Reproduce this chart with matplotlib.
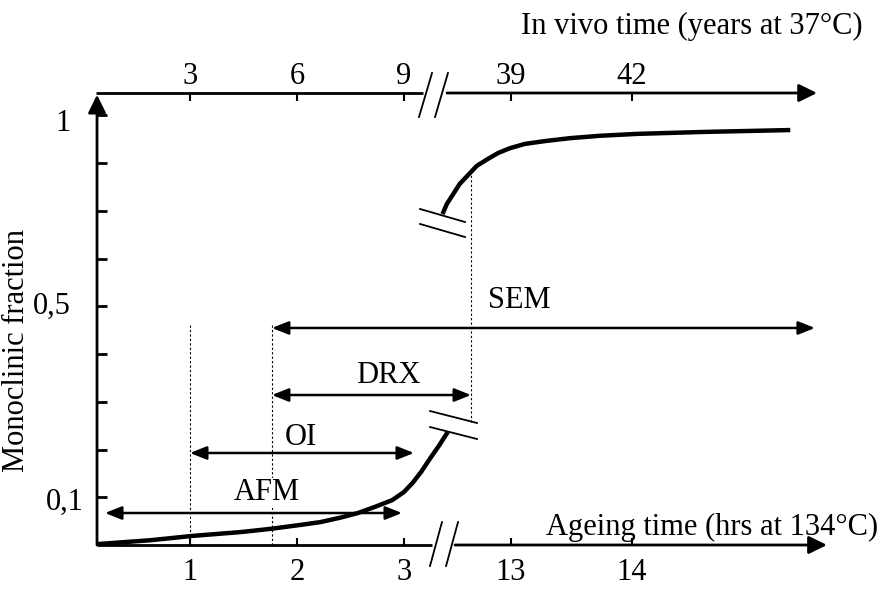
import matplotlib
matplotlib.use('Agg')
import matplotlib.pyplot as plt

plt.rcParams['font.family'] = ['Liberation Serif', 'DejaVu Serif']

# axis tick positions (schematic units) and labels
tick_pos = [1.0, 2.0, 3.0, 4.0, 5.13]
bottom_labels = ['1', '2', '3', '13', '14']
top_labels = ['3', '6', '9', '39', '42']
y_ticks = [1, 2, 3, 4, 5, 6, 7, 8, 9]
y_labels = ['0,1', '', '', '', '0,5', '', '', '', '1']

# monoclinic fraction curve (lower part before break, upper part after)
low_x = [0.14, 0.63, 1.02, 1.47, 1.76, 2.03, 2.22, 2.40, 2.57, 2.73, 2.89, 3.00, 3.08, 3.16, 3.24, 3.33, 3.41]
low_y = [0.02, 0.10, 0.19, 0.27, 0.34, 0.42, 0.48, 0.57, 0.67, 0.80, 0.94, 1.11, 1.30, 1.53, 1.80, 2.09, 2.37]
up_x = [3.36, 3.40, 3.46, 3.52, 3.60, 3.68, 3.78, 3.88, 3.99, 4.13, 4.32, 4.55, 4.83, 5.18, 5.79, 6.61]
up_y = [6.93, 7.14, 7.35, 7.56, 7.75, 7.94, 8.08, 8.21, 8.31, 8.40, 8.46, 8.52, 8.57, 8.61, 8.65, 8.69]

# technique ranges: name, start, end, level
tech_names = ['SEM', 'DRX', 'OI', 'AFM']
tech_start = [1.766, 1.766, 1.0, 0.206]
tech_end = [6.84, 3.626, 3.093, 2.981]
tech_level = [4.545, 3.141, 1.927, 0.670]
label_pos = [(4.08, 5.13), (2.85, 3.56), (2.04, 2.26), (1.72, 1.09)]

fig = plt.figure(figsize=(8.8, 5.94), dpi=100)
ax = fig.add_axes([0, 0, 1, 1])
ax.set_xlim(-83 / 107, (880 - 83) / 107)
ax.set_ylim((545 - 594) / 47.75, 545 / 47.75)
ax.axis('off')

fs = 22
lw_ax = 2.0
axhead = dict(arrowstyle='-|>,head_length=0.55,head_width=0.27', mutation_scale=20,
              lw=lw_ax, color='k', shrinkA=0, shrinkB=0)

x0 = 0.131
y_top = 9.466

# y axis
ax.annotate('', xy=(x0, 9.43), xytext=(x0, 0), arrowprops=axhead)
ax.hlines(y_ticks, x0, x0 + 0.093, color='k', lw=lw_ax)
# label placement (x of right edge, y offset) for the labelled ticks
ylab_place = {'0,1': (0.01, -0.1), '0,5': (-0.11, 0.0), '1': (-0.12, -0.17)}
for yt, lab in zip(y_ticks, y_labels):
    if lab:
        lx, dy = ylab_place[lab]
        ax.text(lx, yt + dy, lab, ha='right', va='center', fontsize=fs)

# bottom axis with break
ax.plot([x0, 3.262], [0, 0], color='k', lw=lw_ax, solid_capstyle='butt')
ax.annotate('', xy=(6.953, 0), xytext=(3.477, 0), arrowprops=axhead)
ax.plot([3.243, 3.355], [-0.44, 0.48], color='k', lw=1.3)
ax.plot([3.393, 3.505], [-0.44, 0.48], color='k', lw=1.3)
ax.vlines(tick_pos, 0, 0.147, color='k', lw=1.5)
for xp, lab in zip(tick_pos, bottom_labels):
    ax.text(xp, -0.57, lab, ha='center', va='center', fontsize=fs)

# top axis with break
ax.plot([x0 - 0.01, 3.178], [y_top, y_top], color='k', lw=lw_ax, solid_capstyle='butt')
ax.annotate('', xy=(6.86, y_top), xytext=(3.402, y_top), arrowprops=axhead)
ax.plot([3.140, 3.262], [8.963, 9.885], color='k', lw=1.3)
ax.plot([3.290, 3.411], [8.963, 9.885], color='k', lw=1.3)
ax.vlines(tick_pos, y_top - 0.168, y_top, color='k', lw=1.5)
for xp, lab in zip(tick_pos, top_labels):
    ax.text(xp, 9.82, lab, ha='center', va='center', fontsize=fs)

# axis titles
ax.text(5.69, 10.86, 'In vivo time (years at 37°C)', ha='center', va='center', fontsize=fs)
ax.text(5.88, 0.36, 'Ageing time (hrs at 134°C)', ha='center', va='center', fontsize=fs)
ax.text(-0.62, 4.08, 'Monoclinic fraction', ha='center', va='center', rotation=90, fontsize=fs)

# curve
ax.plot(low_x, low_y, color='k', lw=3.2, solid_capstyle='butt', solid_joinstyle='round')
ax.plot(up_x, up_y, color='k', lw=3.2, solid_capstyle='butt', solid_joinstyle='round')
# curve breaks
ax.plot([3.243, 3.682], [2.806, 2.555], color='k', lw=1.3)
ax.plot([3.243, 3.682], [2.471, 2.220], color='k', lw=1.3)
ax.plot([3.150, 3.570], [7.037, 6.764], color='k', lw=1.3)
ax.plot([3.150, 3.570], [6.723, 6.450], color='k', lw=1.3)

# dotted guides
dot = dict(color='k', lw=0.8, linestyle=(0, (2, 2)))
ax.plot([1.0, 1.0], [0, 4.61], **dot)
ax.plot([1.766, 1.766], [0, 4.61], **dot)
ax.plot([3.626, 3.626], [2.576, 7.75], **dot)

# technique double arrows
dbl = dict(arrowstyle='<|-|>,head_length=0.5,head_width=0.2', mutation_scale=20,
           lw=1.8, color='k', shrinkA=0, shrinkB=0)
for name, xs, xe, yl, (lx, ly) in zip(tech_names, tech_start, tech_end, tech_level, label_pos):
    ax.annotate('', xy=(xe, yl), xytext=(xs, yl), arrowprops=dbl)
    if name == 'AFM':
        ax.text(lx, ly, name, ha='center', va='center', fontsize=fs,
                bbox=dict(facecolor='white', edgecolor='none', pad=0.5))
    else:
        ax.text(lx, ly, name, ha='center', va='center', fontsize=fs)

fig.savefig('out.png', dpi=100)
